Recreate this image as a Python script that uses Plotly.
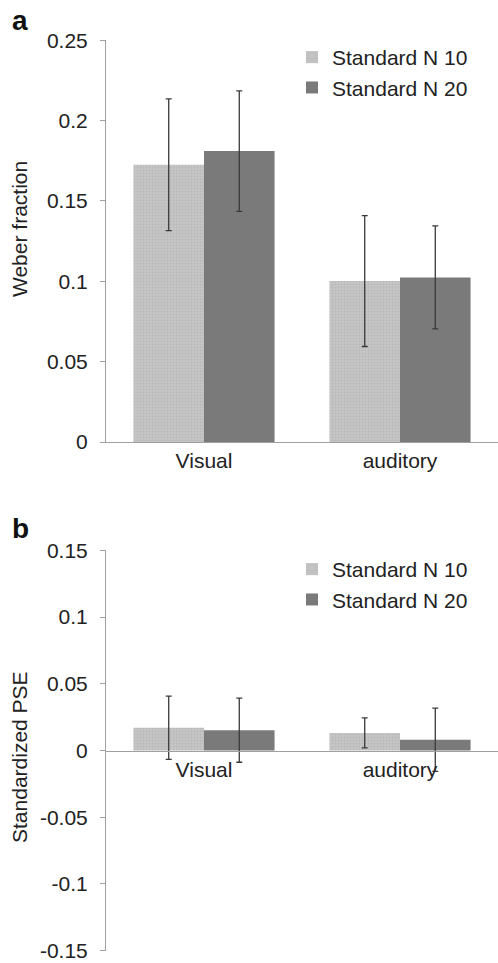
import plotly.graph_objects as go

categories = ["Visual", "auditory"]
series_names = ["Standard N 10", "Standard N 20"]

weber_n10 = [0.1725, 0.1001]
weber_n20 = [0.1810, 0.1024]
weber_err_n10 = [0.0410, 0.0407]
weber_err_n20 = [0.0375, 0.0320]

pse_n10 = [0.0171, 0.0132]
pse_n20 = [0.0152, 0.0080]
pse_err_n10 = [0.0237, 0.0113]
pse_err_n20 = [0.0240, 0.0237]

a_tickvals = [0, 0.05, 0.1, 0.15, 0.2, 0.25]
a_ticktext = ["0", "0.05", "0.1", "0.15", "0.2", "0.25"]
b_tickvals = [-0.15, -0.1, -0.05, 0, 0.05, 0.1, 0.15]
b_ticktext = ["-0.15", "-0.1", "-0.05", "0", "0.05", "0.1", "0.15"]

FONT = "Liberation Sans, Arial, Helvetica, sans-serif"
TXT = "#222222"
AX = "#a0a0a0"
LIGHT = "#bfbfbf"
DARK = "#7a7a7a"
ERR = "#3a3a3a"

W, H = 498, 963
def py(pix):
    return 1 - pix / H

fig = go.Figure()

def add_bars(vals, errs, name, color, xa, ya, legend, light):
    marker = dict(color=color, line=dict(width=0))
    if light:
        marker["pattern"] = dict(shape=".", size=3, solidity=0.35,
                                 fgcolor="#a8a8a8", bgcolor="#c6c6c6")
    fig.add_trace(go.Bar(
        x=categories, y=vals, name=name, marker=marker,
        error_y=dict(type="data", array=errs, visible=True,
                     color=ERR, thickness=1.3, width=3),
        xaxis=xa, yaxis=ya, legend=legend,
    ))

add_bars(weber_n10, weber_err_n10, series_names[0], LIGHT, "x", "y", "legend", True)
add_bars(weber_n20, weber_err_n20, series_names[1], DARK, "x", "y", "legend", False)
add_bars(pse_n10, pse_err_n10, series_names[0], LIGHT, "x2", "y2", "legend2", True)
add_bars(pse_n20, pse_err_n20, series_names[1], DARK, "x2", "y2", "legend2", False)

x0 = 106 / W
a_dom = [py(442), py(40)]
b_dom = [py(951), py(550)]
zero_b = (b_dom[0] + b_dom[1]) / 2

common_y = dict(showgrid=False, zeroline=False, showline=True, linecolor=AX,
                linewidth=1, ticks="outside", ticklen=5, tickcolor=AX,
                tickfont=dict(size=21, color=TXT, family=FONT),
                ticklabelstandoff=8, ticklabeloverflow="allow", automargin=False)
common_x = dict(showgrid=False, zeroline=False, showline=True, linecolor=AX,
                linewidth=1, ticks="", tickfont=dict(size=21, color=TXT, family=FONT),
                automargin=False, range=[-0.5, 1.5])

legend_style = dict(font=dict(size=21, color=TXT, family=FONT),
                    bgcolor="rgba(0,0,0,0)", xanchor="left", yanchor="top",
                    itemwidth=30, tracegroupgap=0)

title_font = dict(size=21, color=TXT, family=FONT)

fig.update_layout(
    width=W, height=H,
    margin=dict(l=0, r=0, t=0, b=0),
    paper_bgcolor="white", plot_bgcolor="white",
    barmode="group", bargap=0.28, bargroupgap=0,
    font=dict(family=FONT, color=TXT),
    xaxis=dict(domain=[x0, 1], anchor="y", **common_x),
    yaxis=dict(domain=a_dom, anchor="x", range=[0, 0.2501],
               tickvals=a_tickvals, ticktext=a_ticktext, **common_y),
    xaxis2=dict(domain=[x0, 1], anchor="free", position=zero_b, **common_x),
    yaxis2=dict(domain=b_dom, anchor="x2", range=[-0.1502, 0.1502],
                tickvals=b_tickvals, ticktext=b_ticktext, **common_y),
    legend=dict(x=292 / W, y=py(37), **legend_style),
    legend2=dict(x=292 / W, y=py(549), **legend_style),
    annotations=[
        dict(text="<b>a</b>", x=10 / W, y=py(38), xref="paper", yref="paper",
             xanchor="left", yanchor="bottom", showarrow=False,
             font=dict(size=28, color="#111111", family=FONT)),
        dict(text="<b>b</b>", x=10 / W, y=py(546), xref="paper", yref="paper",
             xanchor="left", yanchor="bottom", showarrow=False,
             font=dict(size=28, color="#111111", family=FONT)),
        dict(text="Weber fraction", textangle=-90, x=19 / W, y=py(229),
             xref="paper", yref="paper", xanchor="center", yanchor="middle",
             showarrow=False, font=title_font),
        dict(text="Standardized PSE", textangle=-90, x=19 / W, y=py(757),
             xref="paper", yref="paper", xanchor="center", yanchor="middle",
             showarrow=False, font=title_font),
    ],
)

fig.write_html("out.html",
               config={"displayModeBar": False},
               post_script="document.body.style.margin='0';document.body.style.padding='0';")
